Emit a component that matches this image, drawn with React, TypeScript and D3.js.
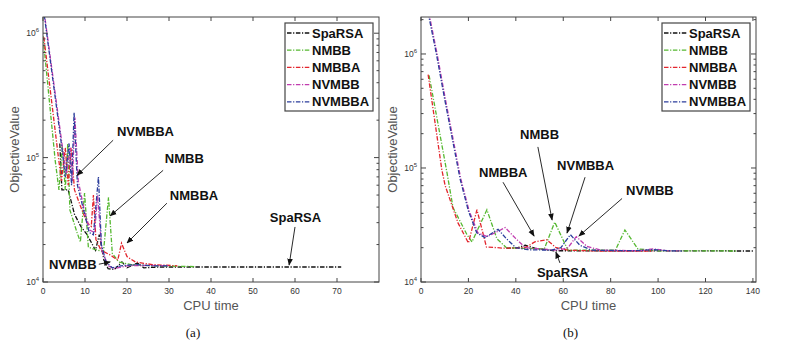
import React from 'react';
import * as d3 from 'd3';

// series order, names and colours (drawn in this order, last on top)
const seriesNames = ['SpaRSA', 'NMBB', 'NMBBA', 'NVMBB', 'NVMBBA'];
const seriesColors = ['#111111', '#55b830', '#e3262e', '#c13caf', '#2b3d9c'];

// panel (a): [CPU time, objective value]
const aSpaRSA = [[4, 1.3e5], [4.5, 5.5e4], [6, 5.5e4], [7.5, 3.5e4], [9, 2.8e4], [10.5, 2.4e4], [12.5, 1.8e4], [13.4, 2.4e4], [14.5, 1.5e4], [15.5, 1.28e4], [17, 1.26e4], [18.8, 1.45e4], [20, 1.3e4], [22.5, 1.42e4], [24, 1.3e4], [28, 1.32e4], [40, 1.32e4], [71, 1.32e4]];
const aNMBB = [[0, 9.5e5], [2.9, 9.5e4], [3.8, 5.5e4], [4.6, 1.25e5], [5.3, 5.5e4], [5.9, 1.3e5], [6.4, 3.8e4], [8.1, 2.5e4], [8.9, 2.1e4], [9.9, 5.2e4], [10.8, 1.9e4], [14.4, 1.75e4], [15.6, 4.8e4], [16.5, 1.7e4], [18, 1.45e4], [21, 1.38e4], [26, 1.35e4], [36, 1.33e4]];
const aNMBBA = [[0.2, 9.3e5], [3.6, 1.05e5], [4.4, 6.5e4], [5.3, 1.2e5], [6, 6e4], [6.7, 1.2e5], [7.5, 5.5e4], [9, 4e4], [10.5, 3e4], [11.5, 2.8e4], [12, 5e4], [12.6, 2.2e4], [13.8, 1.8e4], [16, 1.65e4], [17.8, 1.5e4], [18.7, 2.05e4], [20, 1.6e4], [22, 1.45e4], [26, 1.38e4], [32, 1.35e4]];
const aNVMBB = [[0.5, 1.3e6], [4.8, 1.1e5], [5.6, 7.5e4], [6.5, 1.2e5], [7, 6.5e4], [7.6, 2.1e5], [8.4, 6.5e4], [9.8, 3.8e4], [11.2, 2.6e4], [12.3, 2.5e4], [13, 5e4], [14, 1.8e4], [15.5, 1.35e4], [17, 1.28e4], [20, 1.35e4], [25, 1.36e4], [30, 1.35e4]];
const aNVMBBA = [[0.3, 1.4e6], [4.5, 1.2e5], [5.3, 7e4], [6.2, 1.3e5], [6.8, 6e4], [7.4, 2.3e5], [8.2, 6e4], [9.5, 4e4], [11, 2.5e4], [12, 2.4e4], [13.2, 7e4], [13.9, 2e4], [15, 1.45e4], [16.5, 1.3e4], [18.5, 1.35e4], [22, 1.38e4], [26, 1.35e4], [30, 1.35e4]];

// panel (b)
const bSpaRSA = [[36, 1.98e4], [40, 1.98e4], [44, 2.1e4], [48, 1.98e4], [56, 1.88e4], [140, 1.87e4]];
const bNMBB = [[3.4, 6.5e5], [11, 9e4], [13.5, 4.5e4], [19.4, 2.6e4], [21.5, 2.25e4], [27.8, 4.3e4], [32, 2.4e4], [36, 2e4], [52, 1.95e4], [56.4, 3.35e4], [62, 1.9e4], [82, 1.9e4], [86, 2.86e4], [91.5, 1.95e4], [100, 1.88e4], [133, 1.87e4]];
const bNMBBA = [[3, 6.6e5], [8.8, 9.6e4], [10.2, 7e4], [15.6, 3.3e4], [20, 2.2e4], [23.6, 4.3e4], [27.6, 2.03e4], [35, 1.98e4], [44, 2e4], [48, 2.25e4], [53, 2.35e4], [57, 2e4], [62, 1.9e4], [75, 1.87e4], [98, 1.87e4]];
const bNVMBB = [[3.3, 2.3e6], [6.8, 1e6], [10.3, 4e5], [13.3, 1.9e5], [16.8, 8e4], [20.3, 4.2e4], [24, 2.7e4], [28, 2.5e4], [35.5, 3e4], [40, 2.4e4], [44, 2e4], [50, 1.95e4], [58, 1.9e4], [62, 2e4], [65.5, 2.5e4], [70, 2.05e4], [76, 1.9e4], [92, 1.88e4], [98, 1.95e4], [104, 1.88e4], [110, 1.87e4]];
const bNVMBBA = [[3, 2.3e6], [6.5, 1e6], [10, 4e5], [13, 1.9e5], [16.5, 8e4], [20, 4.2e4], [23.5, 2.7e4], [27, 2.45e4], [32.5, 2.9e4], [36, 2.4e4], [40, 2e4], [45, 1.92e4], [55, 1.9e4], [59, 2e4], [63, 2.6e4], [67, 2.1e4], [72, 1.9e4], [90, 1.88e4], [98, 1.92e4], [105, 1.88e4], [110, 1.87e4]];

// tick values
const aXTicks = [0, 10, 20, 30, 40, 50, 60, 70];
const bXTicks = [0, 20, 40, 60, 80, 100, 120, 140];
const yTicks = [1e4, 1e5, 1e6];

// annotations: label at (t, v), arrow from -> to, all in data units
const aNotes = [
  { label: 'NVMBBA', at: [17.6, 1.63e5], from: [16.7, 1.38e5], to: [8.1, 7.2e4] },
  { label: 'NMBB', at: [29, 9.9e4], from: [28.6, 7.9e4], to: [16, 3.4e4] },
  { label: 'NMBBA', at: [30.2, 5e4], from: [29.5, 4.3e4], to: [20, 2.06e4] },
  { label: 'SpaRSA', at: [54, 3.27e4], from: [60, 2.77e4], to: [58.6, 1.37e4] },
  { label: 'NVMBB', at: [1.4, 1.37e4], from: [13.3, 1.39e4], to: [16, 1.45e4] },
];
const bNotes = [
  { label: 'NMBB', at: [41.8, 1.95e5], from: [49.3, 1.53e5], to: [55.3, 3.5e4] },
  { label: 'NMBBA', at: [24.5, 9.2e4], from: [34.6, 7.5e4], to: [47.7, 2.53e4] },
  { label: 'NVMBBA', at: [57.4, 1.06e5], from: [69.2, 8.3e4], to: [61.6, 2.69e4] },
  { label: 'NVMBB', at: [86.5, 6.4e4], from: [84.8, 5.4e4], to: [66.6, 2.53e4] },
  { label: 'SpaRSA', at: [48.9, 1.22e4], from: [58.6, 1.47e4], to: [56.9, 1.83e4] },
];

const FONT = 'Liberation Sans, Arial, Helvetica, sans-serif';
const TOP = 17;
const BOTTOM = 282;
const DASH = '4.5,1.6,1.2,1.6';

function Panel({ id, x0, x1, xMax, yMax, xTicks, series, notes, caption }) {
  const x = d3.scaleLinear().domain([0, xMax]).range([x0, x1]);
  const y = d3.scaleLog().domain([1e4, yMax]).range([BOTTOM, TOP]);
  const line = d3.line().x(d => x(d[0])).y(d => y(d[1]));

  const minor = [];
  for (let k = 4; k <= 6; k++) {
    for (let m = 2; m <= 9; m++) {
      const v = m * Math.pow(10, k);
      if (v < yMax) minor.push(v);
    }
  }
  const axisCol = '#444';
  const lx = x1 - 94;
  const ly = TOP + 6;

  return (
    <g>
      <defs>
        <clipPath id={'clip' + id}>
          <rect x={x0} y={TOP} width={x1 - x0} height={BOTTOM - TOP} />
        </clipPath>
      </defs>
      <rect x={x0} y={TOP} width={x1 - x0} height={BOTTOM - TOP} fill="white" />
      <g clipPath={`url(#clip${id})`}>
        {series.map((s, i) => (
          <path key={i} d={line(s)} fill="none" stroke={seriesColors[i]}
            strokeWidth={1.3} strokeDasharray={DASH} />
        ))}
      </g>
      {/* box + ticks */}
      <rect x={x0} y={TOP} width={x1 - x0} height={BOTTOM - TOP} fill="none" stroke={axisCol} strokeWidth={1} />
      {xTicks.map(t => (
        <g key={t}>
          <line x1={x(t)} x2={x(t)} y1={BOTTOM} y2={BOTTOM - 4} stroke={axisCol} />
          <line x1={x(t)} x2={x(t)} y1={TOP} y2={TOP + 4} stroke={axisCol} />
          <text x={x(t)} y={BOTTOM + 12} fontSize={8.5} textAnchor="middle" fill="#333" fontFamily={FONT}>{t}</text>
        </g>
      ))}
      {yTicks.map(v => (
        <g key={v}>
          <line x1={x0} x2={x0 + 5} y1={y(v)} y2={y(v)} stroke={axisCol} />
          <line x1={x1} x2={x1 - 5} y1={y(v)} y2={y(v)} stroke={axisCol} />
          <text x={x0 - 4} y={y(v) + 3} fontSize={8.5} textAnchor="end" fill="#333" fontFamily={FONT}>
            10<tspan dy={-4} fontSize={6}>{Math.round(Math.log10(v))}</tspan>
          </text>
        </g>
      ))}
      {minor.map(v => (
        <g key={'m' + v}>
          <line x1={x0} x2={x0 + 2.5} y1={y(v)} y2={y(v)} stroke={axisCol} />
          <line x1={x1} x2={x1 - 2.5} y1={y(v)} y2={y(v)} stroke={axisCol} />
        </g>
      ))}
      {/* annotations */}
      {notes.map(n => (
        <g key={n.label}>
          <line x1={x(n.from[0])} y1={y(n.from[1])} x2={x(n.to[0])} y2={y(n.to[1])}
            stroke="#111" strokeWidth={0.9} markerEnd="url(#arrow)" />
          <text x={x(n.at[0])} y={y(n.at[1]) + 4.5} fontSize={13} fontWeight="bold"
            fill="#111" fontFamily={FONT}>{n.label}</text>
        </g>
      ))}
      {/* legend */}
      <rect x={lx} y={ly} width={88} height={88} fill="white" stroke={axisCol} strokeWidth={1.2} />
      {seriesNames.map((name, i) => (
        <g key={name}>
          <line x1={lx + 2} x2={lx + 25} y1={ly + 10 + i * 17.2} y2={ly + 10 + i * 17.2}
            stroke={seriesColors[i]} strokeWidth={1.3} strokeDasharray={DASH} />
          <text x={lx + 27} y={ly + 14.5 + i * 17.2} fontSize={13} fontWeight="bold" fill="#111" fontFamily={FONT}>{name}</text>
        </g>
      ))}
      {/* axis labels */}
      <text x={(x0 + x1) / 2} y={310} fontSize={13} textAnchor="middle" fill="#555" fontFamily={FONT}>CPU time</text>
      <text transform={`translate(${x0 - 24},${(TOP + BOTTOM) / 2}) rotate(-90)`} fontSize={13}
        textAnchor="middle" fill="#555" fontFamily={FONT}>ObjectiveValue</text>
      <text x={(x0 + x1) / 2 - 18} y={337} fontSize={13} textAnchor="middle" fill="#111"
        fontFamily="Liberation Serif, Times New Roman, serif">{caption}</text>
    </g>
  );
}

export default function App() {
  return (
    <svg width={789} height={346} style={{ position: 'absolute', left: 0, top: 0, background: 'white' }}>
      <defs>
        <marker id="arrow" viewBox="0 0 10 10" refX={9} refY={5} markerWidth={7} markerHeight={7}
          markerUnits="userSpaceOnUse" orient="auto">
          <path d="M0,1 L10,5 L0,9 Z" fill="#111" />
        </marker>
      </defs>
      <rect width={789} height={346} fill="white" />
      <Panel id="a" x0={43} x1={379} xMax={80} yMax={1.35e6} xTicks={aXTicks}
        series={[aSpaRSA, aNMBB, aNMBBA, aNVMBB, aNVMBBA]} notes={aNotes} caption="(a)" />
      <Panel id="b" x0={421} x1={756} xMax={141.3} yMax={2.11e6} xTicks={bXTicks}
        series={[bSpaRSA, bNMBB, bNMBBA, bNVMBB, bNVMBBA]} notes={bNotes} caption="(b)" />
    </svg>
  );
}
